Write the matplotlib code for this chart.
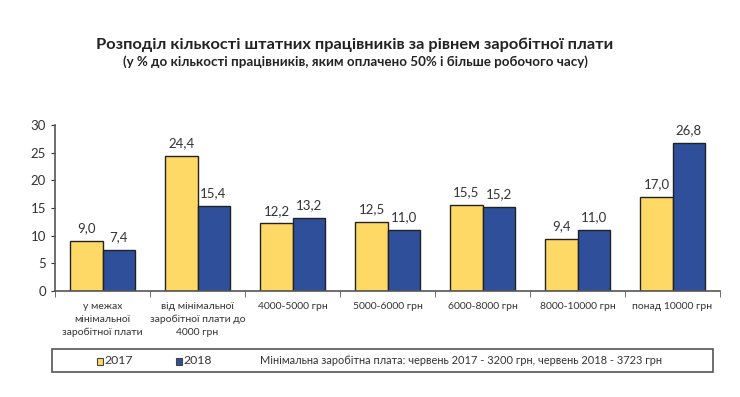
import matplotlib
matplotlib.use("Agg")
import matplotlib.pyplot as plt
import numpy as np
from matplotlib.patches import Rectangle

plt.rcParams["font.family"] = ["Lato", "DejaVu Sans"]

categories = [
    "у межах\nмінімальної\nзаробітної плати",
    "від мінімальної\nзаробітної плати до\n4000 грн",
    "4000-5000 грн",
    "5000-6000 грн",
    "6000-8000 грн",
    "8000-10000 грн",
    "понад 10000 грн",
]
values_2017 = [9.0, 24.4, 12.2, 12.5, 15.5, 9.4, 17.0]
values_2018 = [7.4, 15.4, 13.2, 11.0, 15.2, 11.0, 26.8]
yticks = [0, 5, 10, 15, 20, 25, 30]

YELLOW = "#FFD966"
BLUE = "#2F4F9B"

fig = plt.figure(figsize=(7.4, 3.97), dpi=100)
ax = fig.add_axes([55 / 740, 1 - 291 / 397, 665 / 740, 166 / 397])

x = np.arange(len(categories))
w = 0.337
b1 = ax.bar(x - w / 2, values_2017, w, color=YELLOW, edgecolor="#222222", linewidth=1)
b2 = ax.bar(x + w / 2, values_2018, w, color=BLUE, edgecolor="#222222", linewidth=1)

for bars, vals in ((b1, values_2017), (b2, values_2018)):
    for r, v in zip(bars, vals):
        ax.text(r.get_x() + r.get_width() / 2, v + 1.2, f"{v:.1f}".replace(".", ","),
                ha="center", va="bottom", fontsize=9.5, color="#333333")

ax.set_xlim(-0.5, len(categories) - 0.5)
ax.set_ylim(0, 30)
ax.set_yticks(yticks)
ax.tick_params(axis="y", labelsize=9.5, colors="#333333", length=3)
ax.set_xticks(x)
ax.set_xticklabels(categories, fontsize=7.5, color="#333333", linespacing=1.5)
ax.tick_params(axis="x", length=0, pad=8)
ax.set_xticks(list(np.arange(-0.5, len(categories), 1.0)), minor=True)
ax.tick_params(axis="x", which="minor", length=4, color="#555555")

for s in ("top", "right"):
    ax.spines[s].set_visible(False)
for s in ("left", "bottom"):
    ax.spines[s].set_color("#555555")
    ax.spines[s].set_linewidth(1.2)

fig.text(355 / 740, 1 - 45 / 397, "Розподіл кількості штатних працівників за рівнем заробітної плати",
         ha="center", va="center", fontsize=11.8, fontweight="bold", color="#222222")
fig.text(355 / 740, 1 - 62 / 397, "(у % до кількості працівників, яким оплачено 50% і більше робочого часу)",
         ha="center", va="center", fontsize=9.6, fontweight="bold", color="#222222")

# legend box
fig.patches.append(Rectangle((52 / 740, 1 - 372 / 397), 661 / 740, 23 / 397,
                             transform=fig.transFigure, fill=False,
                             edgecolor="#555555", linewidth=1.2))
ly = 1 - 361 / 397
for xx, col, lab in ((97, YELLOW, "2017"), (176, BLUE, "2018")):
    fig.patches.append(Rectangle((xx / 740, ly - 3.5 / 397), 6 / 740, 7 / 397,
                                 transform=fig.transFigure, facecolor=col,
                                 edgecolor="#444444", linewidth=0.8))
    fig.text((xx + 7) / 740, ly, lab, ha="left", va="center", fontsize=8.8, color="#333333")
fig.text(260 / 740, ly, "Мінімальна заробітна плата: червень 2017 - 3200 грн, червень 2018 - 3723 грн",
         ha="left", va="center", fontsize=7.9, color="#333333")

fig.savefig("out.png", dpi=100)
